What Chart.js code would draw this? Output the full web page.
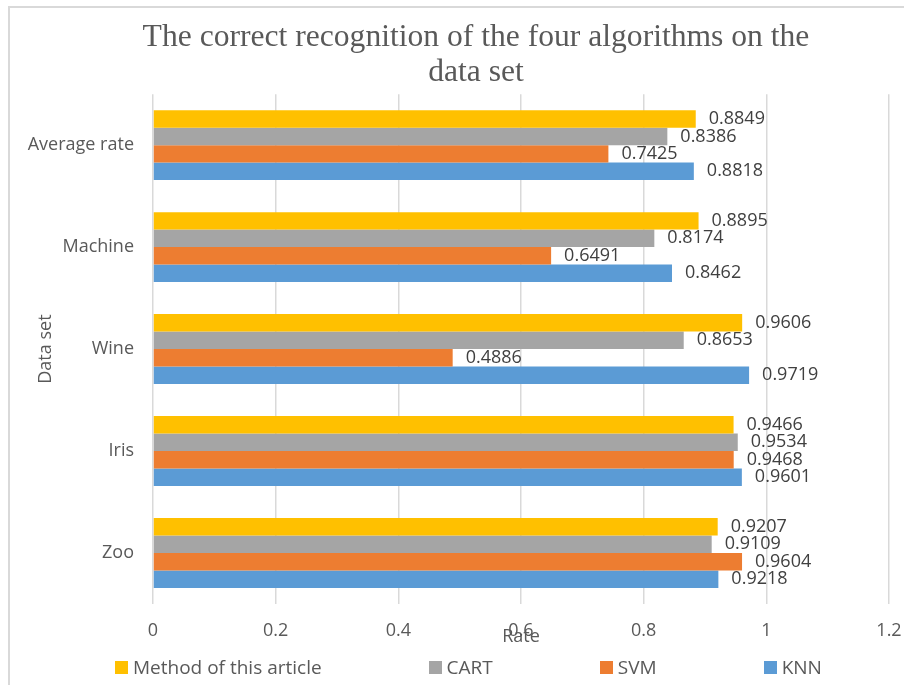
<!DOCTYPE html>
<html lang="en">
<head>
  <meta charset="UTF-8">
  <title>The correct recognition of the four algorithms on the data set</title>
  <script src="https://cdn.jsdelivr.net/npm/chart.js"></script>
  <style>
    html, body {
      margin: 0;
      padding: 0;
      background: #ffffff;
      overflow: hidden;
    }
    #wrap {
      position: relative;
      width: 904px;
      height: 685px;
    }
    #frame {
      position: absolute;
      left: 8px;
      top: 6px;
      width: 1000px;
      height: 1000px;
      border: 2px solid #d9d9d9;
    }
    canvas {
      position: absolute;
      left: 0;
      top: 0;
    }
    #legend {
      position: absolute;
      left: 115px;
      top: 654px;
      display: flex;
      gap: 107px;
      font-family: "Open Sans", sans-serif;
      font-size: 19px;
      line-height: 26px;
      color: #595959;
    }
    .item {
      display: flex;
      align-items: center;
      white-space: nowrap;
    }
    .box {
      width: 13px;
      height: 13px;
      margin-right: 5px;
    }
  </style>
</head>
<body>
  <div id="wrap">
    <div id="frame"></div>
    <canvas id="chart" width="904" height="685"></canvas>
    <div id="legend"></div>
  </div>

  <script>
    // 데이터
    const dataSets = ['Average rate', 'Machine', 'Wine', 'Iris', 'Zoo'];
    const methodRate = [0.8849, 0.8895, 0.9606, 0.9466, 0.9207];
    const cartRate   = [0.8386, 0.8174, 0.8653, 0.9534, 0.9109];
    const svmRate    = [0.7425, 0.6491, 0.4886, 0.9468, 0.9604];
    const knnRate    = [0.8818, 0.8462, 0.9719, 0.9601, 0.9218];
    const rateTicks  = [0, 0.2, 0.4, 0.6, 0.8, 1, 1.2];

    const textColor = '#595959';
    const sansFont = '"Open Sans", sans-serif';

    const series = [
      { label: 'Method of this article', data: methodRate, color: '#ffc000' },
      { label: 'CART', data: cartRate, color: '#a5a5a5' },
      { label: 'SVM', data: svmRate, color: '#ed7d31' },
      { label: 'KNN', data: knnRate, color: '#5b9bd5' },
    ];

    // 막대 끝에 값 표시
    const valueLabels = {
      id: 'valueLabels',
      afterDatasetsDraw(chart) {
        const ctx = chart.ctx;
        ctx.save();
        ctx.font = '18px ' + sansFont;
        ctx.fillStyle = '#404040';
        ctx.textAlign = 'left';
        ctx.textBaseline = 'middle';
        chart.data.datasets.forEach((ds, i) => {
          const meta = chart.getDatasetMeta(i);
          meta.data.forEach((bar, j) => {
            ctx.fillText(ds.data[j].toFixed(4), bar.x + 13, bar.y);
          });
        });
        ctx.restore();
      }
    };

    // 제목을 오른쪽으로 약간 이동 (원본 위치에 맞춤)
    const shiftTitle = {
      id: 'shiftTitle',
      afterLayout(chart) {
        const t = chart.titleBlock;
        if (t) {
          t.left = 63;
          t.width = t.right - t.left;
        }
      }
    };

    const ctx = document.getElementById('chart').getContext('2d');
    new Chart(ctx, {
      type: 'bar',
      data: {
        labels: dataSets,
        datasets: series.map(s => ({
          label: s.label,
          data: s.data,
          backgroundColor: s.color,
          borderWidth: 0,
          categoryPercentage: 0.686,
          barPercentage: 1,
        })),
      },
      options: {
        indexAxis: 'y',
        responsive: false,
        animation: false,
        layout: {
          padding: { left: 0, right: 15, top: 0, bottom: 40 },
        },
        plugins: {
          legend: { display: false },
          tooltip: { enabled: false },
          title: {
            display: true,
            text: ['The correct recognition of the four algorithms on the', 'data set'],
            color: textColor,
            font: { family: '"Liberation Serif", "Times New Roman", serif', size: 31.6, weight: 'normal', lineHeight: 1.11 },
            padding: { top: 20, bottom: 4 },
          },
        },
        scales: {
          x: {
            min: 0,
            max: 1.2,
            afterBuildTicks(scale) {
              scale.ticks = rateTicks.map(v => ({ value: v }));
            },
            afterFit(scale) {
              scale.height = 41;
              scale.paddingLeft = 0;
              scale.paddingRight = 0;
            },
            grid: { color: '#d9d9d9', lineWidth: 1.5, drawTicks: false },
            border: { display: false },
            ticks: {
              color: textColor,
              font: { family: sansFont, size: 18 },
              padding: 16,
              callback: v => String(v),
            },
            title: {
              display: true,
              text: 'Rate',
              color: textColor,
              font: { family: sansFont, size: 18 },
              padding: { top: 0, bottom: -3 },
            },
          },
          y: {
            afterFit(scale) {
              scale.width = 153;
            },
            grid: { display: false },
            border: { display: false },
            ticks: {
              color: textColor,
              font: { family: sansFont, size: 18 },
              padding: 11,
            },
            title: {
              display: true,
              text: 'Data set',
              color: textColor,
              font: { family: sansFont, size: 18 },
              padding: { top: 35, bottom: 0 },
            },
          },
        },
      },
      plugins: [valueLabels, shiftTitle],
    });

    // 범례
    const legend = document.getElementById('legend');
    series.forEach(s => {
      const item = document.createElement('div');
      item.className = 'item';
      const box = document.createElement('span');
      box.className = 'box';
      box.style.background = s.color;
      item.appendChild(box);
      item.appendChild(document.createTextNode(s.label));
      legend.appendChild(item);
    });
  </script>
</body>
</html>
